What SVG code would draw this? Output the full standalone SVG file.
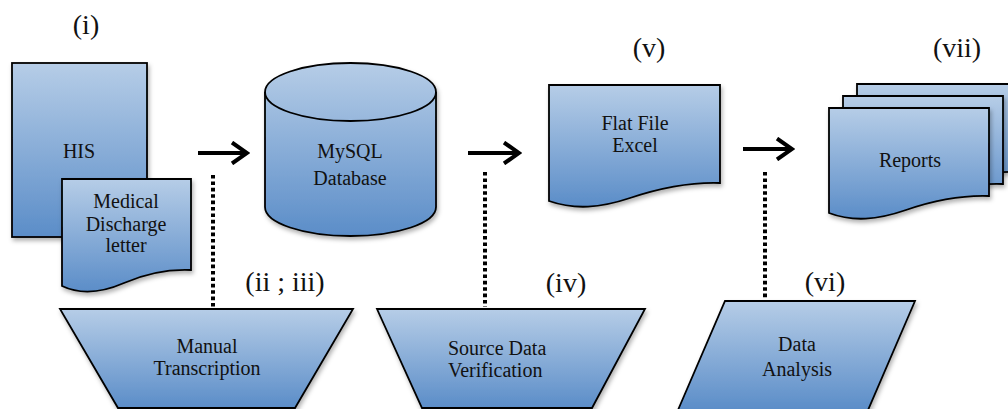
<svg xmlns="http://www.w3.org/2000/svg" width="1008" height="409" viewBox="0 0 1008 409">
<defs>
<linearGradient id="blue" x1="0" y1="0" x2="0" y2="1">
<stop offset="0" stop-color="#b6cde7"/>
<stop offset="1" stop-color="#5b8dc8"/>
</linearGradient>
<filter id="sh" x="-10%" y="-10%" width="125%" height="130%">
<feDropShadow dx="1.5" dy="3" stdDeviation="2" flood-color="#000" flood-opacity="0.3"/>
</filter>
<marker id="chev" viewBox="0 0 20 24" refX="17" refY="12" markerWidth="20" markerHeight="24" markerUnits="userSpaceOnUse" orient="auto">
<path d="M2,1.5 L17,12 L2,22.5" fill="none" stroke="#000" stroke-width="4"/>
</marker>
<style>
.shape{fill:url(#blue);stroke:#000;stroke-width:1.8;filter:url(#sh)}
.edge{fill:none;stroke:#000;stroke-width:1.8}
.t{font-family:"Liberation Serif","Times New Roman",serif;font-size:20px;fill:#111;text-anchor:middle}
.lbl{font-family:"Liberation Serif","Times New Roman",serif;font-size:28px;fill:#111;text-anchor:middle}
.arrow{stroke:#000;stroke-width:4;fill:none}
.dots{stroke:#000;stroke-width:4;stroke-dasharray:3.6 2.8;fill:none}
</style>
</defs>

<g id="labels">
<text class="lbl" x="86" y="34">(i)</text>
<text class="lbl" x="285" y="291">(ii ; iii)</text>
<text class="lbl" x="566" y="292">(iv)</text>
<text class="lbl" x="649" y="57">(v)</text>
<text class="lbl" x="825" y="291">(vi)</text>
<text class="lbl" x="957" y="57">(vii)</text>
</g>

<g id="his">
<rect class="shape" x="12" y="63" width="135" height="174"/>
<text class="t" x="79" y="158">HIS</text>
</g>

<g id="letter">
<path class="shape" d="M191,270 V179 H62 V286 C81,295 101,293 124,283 S168,269 191,270 Z"/>
<text class="t" x="126" y="208">Medical</text>
<text class="t" x="126" y="231">Discharge</text>
<text class="t" x="126" y="252">letter</text>
</g>

<g id="mysql">
<path class="shape" d="M265,92 V207 A85.5,29 0 0 0 436,207 V92 A85.5,29 0 0 0 265,92 Z"/>
<path class="edge" d="M265,92 A85.5,29 0 0 0 436,92"/>
<text class="t" x="350" y="158">MySQL</text>
<text class="t" x="350" y="185">Database</text>
</g>

<g id="flatfile">
<path class="shape" d="M720,183 V85 H549 V201 C575,210 600,208 630,198 S689,182 720,183 Z"/>
<text class="t" x="635" y="130">Flat File</text>
<text class="t" x="635" y="152">Excel</text>
</g>

<g id="reports">
<path class="shape" d="M1017,172 V84 H857 V189 C881,198 905,196 934,186 S988,171 1017,172 Z"/>
<path class="shape" d="M1003,184 V96 H843 V201 C867,210 891,208 920,198 S974,183 1003,184 Z"/>
<path class="shape" d="M989,196 V108 H829 V213 C853,222 877,220 906,210 S960,195 989,196 Z"/>
<text class="t" x="910" y="167">Reports</text>
</g>

<g id="manual">
<path class="shape" d="M60,309 H353 L295,408 H118 Z"/>
<text class="t" x="207" y="353">Manual</text>
<text class="t" x="207" y="375">Transcription</text>
</g>

<g id="sdv">
<path class="shape" d="M377,309 H645 L592,408 H422 Z"/>
<text class="t" x="448" y="355" style="text-anchor:start">Source Data</text>
<text class="t" x="448" y="377" style="text-anchor:start">Verification</text>
</g>

<g id="analysis">
<path class="shape" d="M725,301 H915 L868,410 H678 Z"/>
<text class="t" x="797" y="351">Data</text>
<text class="t" x="797" y="376">Analysis</text>
</g>

<g id="connectors">
<line class="arrow" x1="198" y1="153" x2="247" y2="153" marker-end="url(#chev)"/>
<line class="arrow" x1="468" y1="153" x2="519" y2="153" marker-end="url(#chev)"/>
<line class="arrow" x1="743" y1="149" x2="792" y2="149" marker-end="url(#chev)"/>
<line class="dots" x1="213" y1="175" x2="213" y2="307"/>
<line class="dots" x1="485" y1="172" x2="485" y2="307"/>
<line class="dots" x1="765" y1="172" x2="765" y2="299"/>
</g>
</svg>
